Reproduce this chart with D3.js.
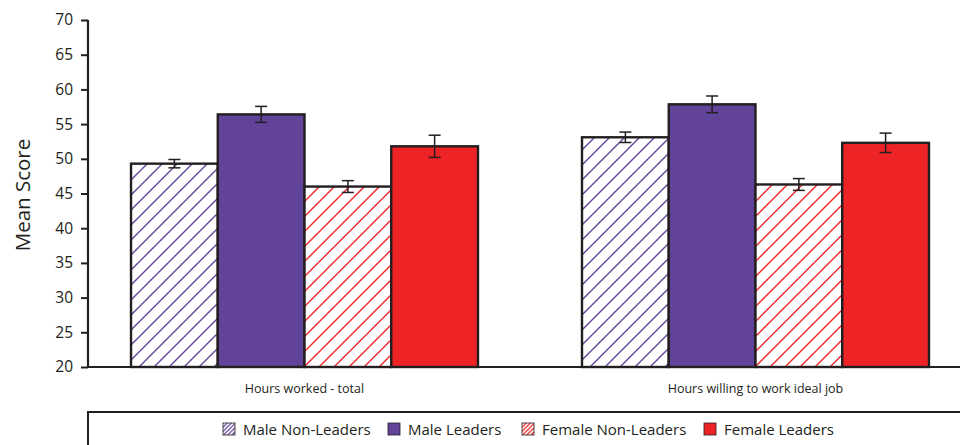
<!DOCTYPE html>
<html>
<head>
<meta charset="utf-8">
<script src="https://cdn.jsdelivr.net/npm/d3@7"></script>
<style>
  html, body { margin: 0; padding: 0; background: #fff; }
  svg { display: block; }
  text { font-family: "Open Sans", "Noto Sans", sans-serif; fill: #231f20; }
</style>
</head>
<body>
<svg id="chart" width="960" height="445"></svg>
<script>
// Categories, series and values
const categories = ["Hours worked - total", "Hours willing to work ideal job"];
const seriesNames = ["Male Non-Leaders", "Male Leaders", "Female Non-Leaders", "Female Leaders"];
const maleNonLeaders   = [49.3, 53.1];
const maleLeaders      = [56.4, 57.85];
const femaleNonLeaders = [46.0, 46.3];
const femaleLeaders    = [51.8, 52.3];
// Half-width of the error bars
const errMaleNonLeaders   = [0.6, 0.75];
const errMaleLeaders      = [1.15, 1.2];
const errFemaleNonLeaders = [0.85, 0.85];
const errFemaleLeaders    = [1.6, 1.4];
const yTicks = [20, 25, 30, 35, 40, 45, 50, 55, 60, 65, 70];

const seriesValues = [maleNonLeaders, maleLeaders, femaleNonLeaders, femaleLeaders];
const seriesErrors = [errMaleNonLeaders, errMaleLeaders, errFemaleNonLeaders, errFemaleLeaders];

const PURPLE = "#61449a";
const RED = "#ee2326";
const INK = "#231f20";
const styles = [
  { color: PURPLE, hatched: true },
  { color: PURPLE, hatched: false },
  { color: RED, hatched: true },
  { color: RED, hatched: false }
];

const svg = d3.select("#chart");
const defs = svg.append("defs");

function hatch(id, color, size, width) {
  const p = defs.append("pattern")
    .attr("id", id)
    .attr("patternUnits", "userSpaceOnUse")
    .attr("width", size).attr("height", size);
  p.append("rect").attr("width", size).attr("height", size).attr("fill", "#fff");
  const q = size / 4;
  p.append("path")
    .attr("d", `M0,${size} L${size},0 M${-q},${q} L${q},${-q} M${size - q},${size + q} L${size + q},${size - q}`)
    .attr("stroke", color).attr("stroke-width", width);
}
hatch("hatchPurple", PURPLE, 15, 1.4);
hatch("hatchRed", RED, 15, 1.4);
hatch("hatchPurpleSmall", PURPLE, 4.2, 1.3);
hatch("hatchRedSmall", RED, 4.2, 1.3);

function fillFor(i, small) {
  const s = styles[i];
  if (!s.hatched) return s.color;
  const base = s.color === PURPLE ? "hatchPurple" : "hatchRed";
  return `url(#${base}${small ? "Small" : ""})`;
}

const x0 = d3.scaleBand()
  .domain(categories)
  .range([88, 972])
  .paddingInner(0.2306)
  .paddingOuter(0.0954);

const x1 = d3.scaleBand()
  .domain(d3.range(seriesNames.length))
  .range([0, x0.bandwidth()])
  .padding(0);

const y = d3.scaleLinear().domain([20, 70]).range([367, 20]);

// Bars
const groups = svg.append("g").selectAll("g")
  .data(categories)
  .join("g")
  .attr("transform", d => `translate(${x0(d)},0)`);

groups.each(function (cat, ci) {
  const g = d3.select(this);
  const rows = seriesNames.map((name, si) => ({
    si, value: seriesValues[si][ci], err: seriesErrors[si][ci]
  }));
  g.selectAll("rect.bar")
    .data(rows)
    .join("rect")
    .attr("class", "bar")
    .attr("x", d => x1(d.si))
    .attr("y", d => y(d.value))
    .attr("width", x1.bandwidth())
    .attr("height", d => y(20) - y(d.value))
    .attr("fill", d => fillFor(d.si, false))
    .attr("stroke", INK)
    .attr("stroke-width", 2.4);

  // Error bars
  const eb = g.selectAll("g.err")
    .data(rows)
    .join("g")
    .attr("class", "err")
    .attr("stroke", INK)
    .attr("stroke-width", 1.5)
    .attr("fill", "none");
  const cx = d => x1(d.si) + x1.bandwidth() / 2;
  eb.append("line")
    .attr("x1", cx).attr("x2", cx)
    .attr("y1", d => y(d.value + d.err)).attr("y2", d => y(d.value - d.err));
  eb.append("line")
    .attr("x1", d => cx(d) - 6).attr("x2", d => cx(d) + 6)
    .attr("y1", d => y(d.value + d.err)).attr("y2", d => y(d.value + d.err));
  eb.append("line")
    .attr("x1", d => cx(d) - 6).attr("x2", d => cx(d) + 6)
    .attr("y1", d => y(d.value - d.err)).attr("y2", d => y(d.value - d.err));
});

// Y axis
const yAxis = svg.append("g")
  .attr("transform", "translate(88,0)")
  .call(d3.axisLeft(y).tickValues(yTicks).tickSize(7).tickPadding(8));
yAxis.select(".domain").attr("stroke", INK).attr("stroke-width", 2.2).attr("d", `M0,${y(70)}V${y(20)}`);
yAxis.selectAll(".tick line").attr("stroke", INK).attr("stroke-width", 2);
yAxis.selectAll(".tick text")
  .style("font-family", '"Open Sans", sans-serif')
  .style("font-size", "15.5px")
  .attr("fill", INK);

// X axis baseline
svg.append("line")
  .attr("x1", 87).attr("x2", 960)
  .attr("y1", y(20)).attr("y2", y(20))
  .attr("stroke", INK).attr("stroke-width", 2.2);

// Category labels
svg.append("g").selectAll("text")
  .data(categories)
  .join("text")
  .attr("x", d => x0(d) + x0.bandwidth() / 2)
  .attr("y", 393)
  .attr("text-anchor", "middle")
  .style("font-size", "12.5px")
  .text(d => d);

// Y axis title
svg.append("text")
  .attr("transform", "translate(30,195) rotate(-90)")
  .attr("text-anchor", "middle")
  .style("font-size", "20.5px")
  .text("Mean Score");

// Legend box
svg.append("rect")
  .attr("x", 88).attr("y", 412)
  .attr("width", 900).attr("height", 60)
  .attr("fill", "none")
  .attr("stroke", INK).attr("stroke-width", 2);

const legendX = [223, 388, 522, 704];
const legend = svg.append("g").selectAll("g")
  .data(seriesNames)
  .join("g")
  .attr("transform", (d, i) => `translate(${legendX[i]},423)`);
legend.append("rect")
  .attr("width", 12).attr("height", 12)
  .attr("fill", (d, i) => fillFor(i, true))
  .attr("stroke", INK).attr("stroke-width", 0.8);
legend.append("text")
  .attr("x", 20).attr("y", 11.5)
  .style("font-size", "15px")
  .text(d => d);
</script>
</body>
</html>
